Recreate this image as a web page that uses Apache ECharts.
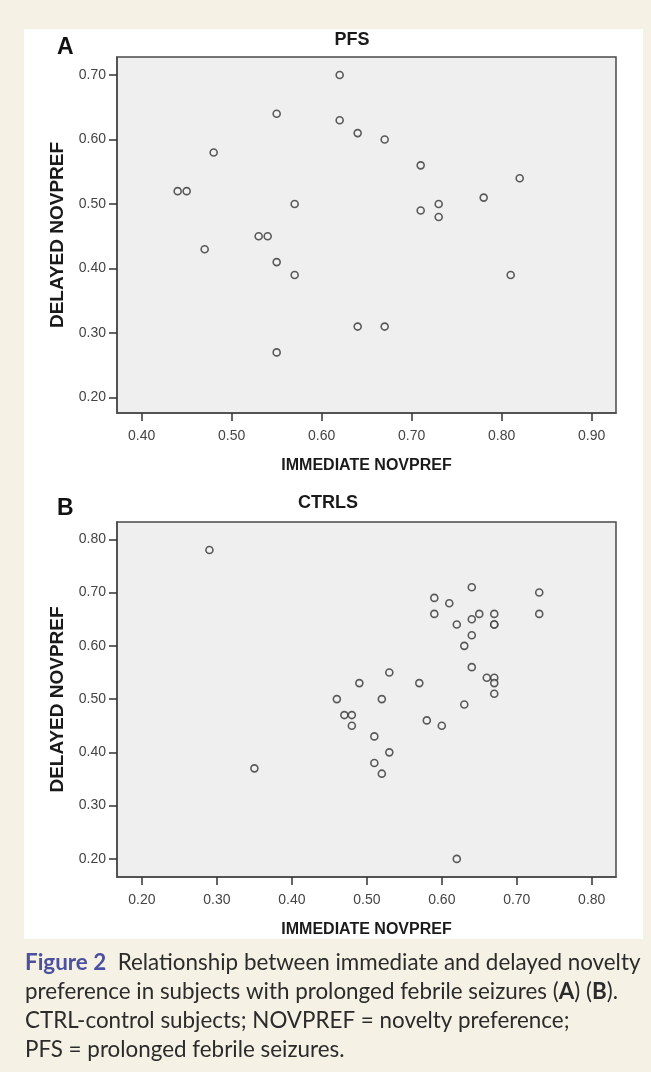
<!DOCTYPE html>
<html>
<head>
<meta charset="utf-8">
<script src="https://cdn.jsdelivr.net/npm/echarts@6/dist/echarts.min.js"></script>
<style>
html,body{margin:0;padding:0;background:#f5f1e4;}
#chart{width:651px;height:1072px;}
</style>
</head>
<body>
<div id="chart"></div>
<script>
// ---- Data ----
const pfsImmediate = [0.62,0.55,0.62,0.64,0.67,0.48,0.71,0.82,0.44,0.45,0.78,0.57,0.73,0.71,0.73,0.53,0.54,0.47,0.55,0.57,0.81,0.64,0.67,0.55];
const pfsDelayed   = [0.70,0.64,0.63,0.61,0.60,0.58,0.56,0.54,0.52,0.52,0.51,0.50,0.50,0.49,0.48,0.45,0.45,0.43,0.41,0.39,0.39,0.31,0.31,0.27];

const ctrlImmediate = [0.29,0.64,0.73,0.59,0.61,0.59,0.65,0.67,0.73,0.64,0.62,0.67,0.67,0.64,0.63,0.64,0.53,0.66,0.67,0.49,0.57,0.67,0.67,0.46,0.52,0.63,0.47,0.48,0.58,0.60,0.48,0.51,0.53,0.51,0.52,0.35,0.62];
const ctrlDelayed   = [0.78,0.71,0.70,0.69,0.68,0.66,0.66,0.66,0.66,0.65,0.64,0.64,0.64,0.62,0.60,0.56,0.55,0.54,0.54,0.53,0.53,0.53,0.51,0.50,0.50,0.49,0.47,0.47,0.46,0.45,0.45,0.43,0.40,0.38,0.36,0.37,0.20];

const xTicksA = [0.40,0.50,0.60,0.70,0.80,0.90];
const yTicksA = [0.20,0.30,0.40,0.50,0.60,0.70];
const xTicksB = [0.20,0.30,0.40,0.50,0.60,0.70,0.80];
const yTicksB = [0.20,0.30,0.40,0.50,0.60,0.70,0.80];

const titleA = 'PFS';
const titleB = 'CTRLS';
const xName = 'IMMEDIATE NOVPREF';
const yName = 'DELAYED NOVPREF';
const captionLines = [
  '{fig|Figure 2}  Relationship between immediate and delayed novelty',
  'preference in subjects with prolonged febrile seizures ({b|A}) ({b|B}).',
  'CTRL-control subjects; NOVPREF = novelty preference;',
  'PFS = prolonged febrile seizures.'
];

// ---- Build ----
const zip = (a, b) => a.map((v, i) => [v, b[i]]);
const fmt = v => Number(v).toFixed(2);
const AX = 'Liberation Sans, Arial, sans-serif';

function xAxis(gi, min, max, ticks) {
  return {
    type: 'value', gridIndex: gi, min: min, max: max,
    name: xName, nameLocation: 'middle', nameGap: 45,
    nameTextStyle: {fontFamily: AX, fontWeight: 'bold', fontSize: 16, color: '#1a1a1a'},
    axisLine: {show: true, onZero: false, lineStyle: {color: '#4a4a4a', width: 1.5}},
    axisTick: {show: true, length: 8, customValues: ticks, lineStyle: {color: '#333', width: 1.5}},
    axisLabel: {customValues: ticks, formatter: fmt, margin: 16, fontFamily: AX, fontSize: 14, color: '#444'},
    splitLine: {show: false}
  };
}
function yAxis(gi, min, max, ticks) {
  return {
    type: 'value', gridIndex: gi, min: min, max: max,
    name: yName, nameLocation: 'middle', nameGap: 50,
    nameTextStyle: {fontFamily: AX, fontWeight: 'bold', fontSize: 19, color: '#1a1a1a'},
    axisLine: {show: true, onZero: false, lineStyle: {color: '#4a4a4a', width: 1.5}},
    axisTick: {show: true, length: 8, customValues: ticks, lineStyle: {color: '#333', width: 1.5}},
    axisLabel: {customValues: ticks, formatter: fmt, margin: 11, fontFamily: AX, fontSize: 14, color: '#444'},
    splitLine: {show: false}
  };
}
const scatterStyle = {
  type: 'scatter', symbol: 'circle', symbolSize: 7,
  itemStyle: {color: '#f2f2f2', borderColor: '#333333', borderWidth: 1.6},
  emphasis: {disabled: true}
};

const capFont = 'Lato, "Open Sans", sans-serif';
const capSize = 22.4;
const capElems = captionLines.map((t, i) => ({
  type: 'text', left: 25, top: 952 + i * 29, z: 10,
  style: {
    text: t, fontFamily: capFont, fontSize: capSize, fill: '#2b2b2b',
    rich: {
      fig: {fontFamily: capFont, fontSize: capSize, fontWeight: 'bold', fill: '#4b50a0', color: '#4b50a0'},
      b: {fontFamily: capFont, fontSize: capSize, fontWeight: 'bold', fill: '#2b2b2b', color: '#2b2b2b'}
    }
  }
}));

const option = {
  backgroundColor: '#f5f1e4',
  animation: false,
  title: [
    {text: titleA, left: 352, top: 31, padding: 0, textAlign: 'center',
     textStyle: {fontFamily: AX, fontWeight: 'bold', fontSize: 18, color: '#1a1a1a'}},
    {text: titleB, left: 328, top: 494, padding: 0, textAlign: 'center',
     textStyle: {fontFamily: AX, fontWeight: 'bold', fontSize: 18, color: '#1a1a1a'}},
    {text: 'A', left: 57, top: 36, padding: 0, textStyle: {fontFamily: AX, fontWeight: 'bold', fontSize: 23, color: '#111'}},
    {text: 'B', left: 57, top: 497, padding: 0, textStyle: {fontFamily: AX, fontWeight: 'bold', fontSize: 23, color: '#111'}}
  ],
  graphic: {
    elements: [
      {type: 'rect', shape: {x: 24, y: 29, width: 619, height: 910}, style: {fill: '#ffffff'}, z: -100, silent: true}
    ].concat(capElems)
  },
  grid: [
    {left: 117, top: 57, width: 499, height: 356, show: true, backgroundColor: '#efefef', borderColor: '#4a4a4a', borderWidth: 1.5},
    {left: 117, top: 522, width: 499, height: 355, show: true, backgroundColor: '#efefef', borderColor: '#4a4a4a', borderWidth: 1.5}
  ],
  xAxis: [
    xAxis(0, 0.3726, 0.927, xTicksA),
    xAxis(1, 0.1667, 0.8324, xTicksB)
  ],
  yAxis: [
    yAxis(0, 0.176, 0.728, yTicksA),
    yAxis(1, 0.166, 0.8325, yTicksB)
  ],
  series: [
    Object.assign({xAxisIndex: 0, yAxisIndex: 0, data: zip(pfsImmediate, pfsDelayed)}, scatterStyle),
    Object.assign({xAxisIndex: 1, yAxisIndex: 1, data: zip(ctrlImmediate, ctrlDelayed)}, scatterStyle)
  ]
};

const chart = echarts.init(document.getElementById('chart'), null, {renderer: 'canvas'});
chart.setOption(option);
</script>
</body>
</html>
